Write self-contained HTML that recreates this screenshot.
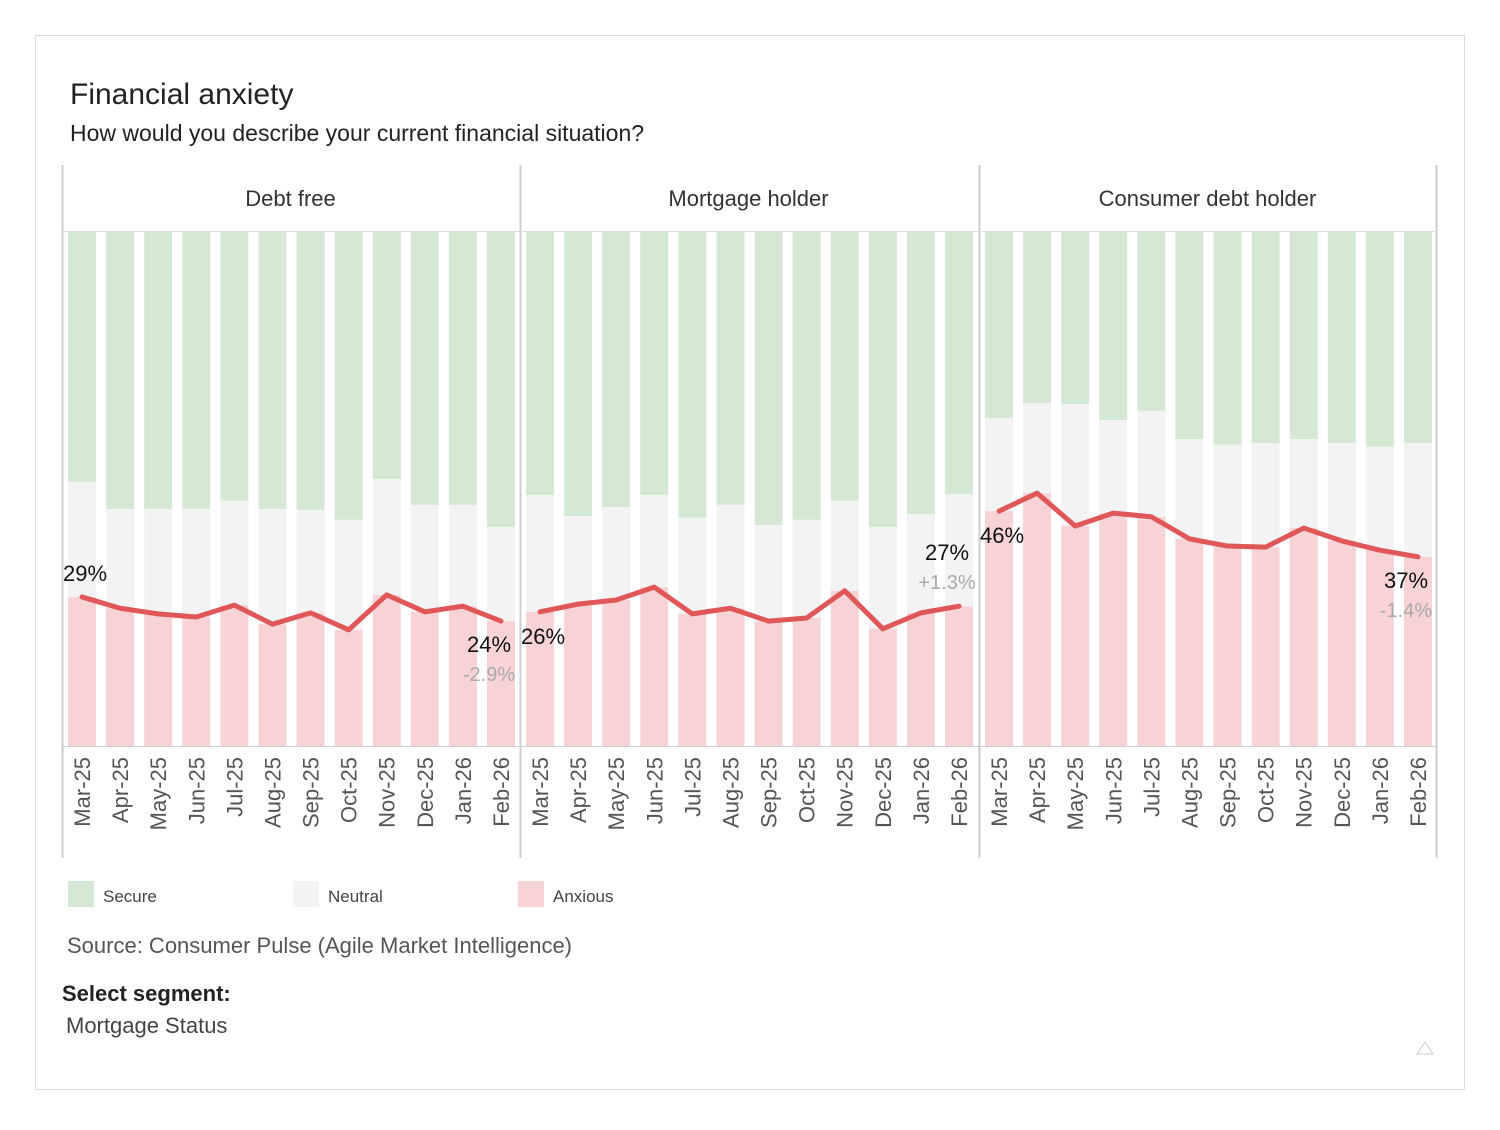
<!DOCTYPE html>
<html><head><meta charset="utf-8">
<style>
body{margin:0;background:#fff;font-family:"Liberation Sans","DejaVu Sans",sans-serif;}
svg text{font-family:"Liberation Sans","DejaVu Sans",sans-serif;}
</style></head>
<body>
<svg id="chart" width="1500" height="1125" xmlns="http://www.w3.org/2000/svg">
<rect x="35.5" y="35.5" width="1429" height="1054" fill="#fff" stroke="#ddd"/>
<text x="70" y="104" font-size="30" fill="#222">Financial anxiety</text>
<text x="70" y="141" font-size="23" fill="#222">How would you describe your current financial situation?</text>
<g id="plot"></g>
<g>
<rect x="68" y="881" width="26" height="26" fill="#d5e8d4"/>
<text x="103" y="902" font-size="17" fill="#444">Secure</text>
<rect x="293" y="881" width="26" height="26" fill="#f3f3f3"/>
<text x="328" y="902" font-size="17" fill="#444">Neutral</text>
<rect x="518" y="881" width="26" height="26" fill="#f7d3d6"/>
<text x="553" y="902" font-size="17" fill="#444">Anxious</text>
</g>
<text x="67" y="953" font-size="22" fill="#555">Source: Consumer Pulse (Agile Market Intelligence)</text>
<text x="62" y="1001" font-size="22" font-weight="bold" fill="#222">Select segment:</text>
<text x="66" y="1033" font-size="22" fill="#444">Mortgage Status</text>
<path d="M1425 1042 L1433 1054 L1417 1054 Z" fill="none" stroke="#ccc"/>
</svg>
<script>
const months=["Mar-25","Apr-25","May-25","Jun-25","Jul-25","Aug-25","Sep-25","Oct-25","Nov-25","Dec-25","Jan-26","Feb-26"];
const panels=["Debt free","Mortgage holder","Consumer debt holder"];
const anxiousDebtFree=[29.0,26.8,25.7,25.1,27.4,23.7,25.9,22.6,29.4,26.1,27.2,24.3];
const secureDebtFree=[48.6,53.9,53.9,53.9,52.3,53.9,54.1,56.0,48.1,53.1,53.1,57.4];
const anxiousMortgage=[26.1,27.6,28.4,30.9,25.7,26.8,24.3,24.9,30.2,22.8,25.9,27.2];
const secureMortgage=[51.2,55.3,53.5,51.2,55.6,53.1,57.0,56.0,52.3,57.4,54.9,51.0];
const anxiousConsumer=[45.7,49.2,42.8,45.3,44.6,40.3,38.9,38.7,42.4,39.9,38.1,36.8];
const secureConsumer=[36.2,33.3,33.5,36.6,34.8,40.3,41.4,41.1,40.3,41.1,41.8,41.1];
const firstLabels=["29%","26%","46%"];
const lastLabels=["24%","27%","37%"];
const changeLabels=["-2.9%","+1.3%","-1.4%"];

const anx=[anxiousDebtFree,anxiousMortgage,anxiousConsumer];
const sec=[secureDebtFree,secureMortgage,secureConsumer];
const NS="http://www.w3.org/2000/svg";
const plotG=document.getElementById('plot');
const panelX=[62,520,979], panelW=457, plotTop=232, plotBot=746;
function sy(v){return plotBot-(v/100)*(plotBot-plotTop);}
function sx(p,i){return panelX[p]+20+i*(panelW-38)/11;}
function mk(t,a){const e=document.createElementNS(NS,t);for(const k in a)e.setAttribute(k,a[k]);plotG.appendChild(e);return e;}
[62,520,979,1436].forEach(function(lx){
  const l=mk('line',{x1:lx+0.5,x2:lx+0.5,y1:165,y2:858,stroke:'#ccc','stroke-width':2});
  
  
});
const hl=mk('line',{x1:62,x2:1437,y1:231.5,y2:231.5,stroke:'#ddd'});


panels.forEach(function(name,p){
  const h=mk('text',{x:panelX[p]+panelW/2,y:206,'font-size':22,fill:'#333','text-anchor':'middle'});
  h.textContent=name;
  
  
  const pts=[];
  months.forEach(function(m,i){
    const cx=sx(p,i),bw=28;
    const a=anx[p][i],s=sec[p][i];
    const rs=mk('rect',{x:cx-bw/2,y:plotTop,width:bw,height:sy(100-s)-plotTop,fill:'#d5e8d4'});
    
    
    const rn=mk('rect',{x:cx-bw/2,y:sy(100-s),width:bw,height:sy(a)-sy(100-s),fill:'#f3f3f3'});
    
    
    const ra=mk('rect',{x:cx-bw/2,y:sy(a),width:bw,height:plotBot-sy(a),fill:'#f7d3d6'});
    
    
    pts.push(cx+','+sy(a));
    const t=mk('text',{x:0,y:0,'font-size':22,fill:'#555','text-anchor':'end',transform:'translate('+(cx+8)+',757) rotate(-90)'});
    t.textContent=m;
    
    
  });
  const ln=mk('polyline',{points:pts.join(' '),fill:'none',stroke:'#e05759','stroke-width':5,'stroke-linejoin':'round','stroke-linecap':'round'});
  
  
  const a0=anx[p][0],aL=anx[p][11];
  const fy=p==0?sy(a0)-16:sy(a0)+32;
  const f=mk('text',{x:sx(p,0)-19,y:fy,'font-size':22,fill:'#111'});
  f.textContent=firstLabels[p];
  
  
  const up=p==1;
  const ly=up?sy(aL)-46:sy(aL)+31;
  const l=mk('text',{x:sx(p,11)-12,y:ly,'font-size':22,fill:'#111','text-anchor':'middle'});
  l.textContent=lastLabels[p];
  
  
  const c=mk('text',{x:sx(p,11)-12,y:ly+29,'font-size':20,fill:'#aaa','text-anchor':'middle'});
  c.textContent=changeLabels[p];
  
  
});
const al=mk('line',{x1:62,x2:1437,y1:746.5,y2:746.5,stroke:'#ccc'});


</script>
</body></html>
